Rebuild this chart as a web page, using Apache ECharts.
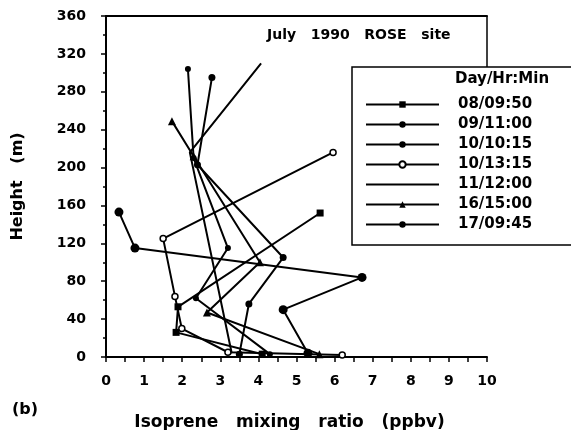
<!DOCTYPE html>
<html>
<head>
<meta charset="utf-8">
<script src="https://cdn.jsdelivr.net/npm/echarts@6/dist/echarts.min.js"></script>
<style>
	html, body { margin: 0; padding: 0; background: #fff; }
	#chart { width: 571px; height: 430px; }
</style>
</head>
<body>
<div id="chart"></div>
<script>
// 剖面数据 (异戊二烯, ppbv / 高度 m)
var names = ['08/09:50', '09/11:00', '10/10:15', '10/13:15', '11/12:00', '16/15:00', '17/09:45'];

var x0809 = [5.62, 1.89, 1.84, 4.1];
var h0809 = [152, 53, 26, 3];

var x0911 = [2.15, 2.3, 3.2, 2.36, 4.3];
var h0911 = [304, 210, 115, 62, 3];

var x1010 = [2.78, 2.4, 4.65, 3.75, 3.5];
var h1010 = [295, 203, 105, 56, 3];

var x1013 = [5.96, 1.5, 1.81, 1.99, 3.2, 6.2];
var h1013 = [216, 125, 64, 30, 5, 2];

var x1112 = [4.07, 2.2, 3.3];
var h1112 = [310, 216, 4];

var x1615 = [1.73, 2.3, 4.04, 2.65, 5.6];
var h1615 = [249, 212, 100, 47, 3];

var x1709 = [0.34, 0.76, 6.72, 4.65, 5.3];
var h1709 = [153, 115, 84, 50, 4];

var xTicks = [0, 10, 1];
var yTicks = [0, 360, 40];

function pairs(xs, hs) {
	var out = [];
	for (var i = 0; i < xs.length; i++) {
		out.push([xs[i], hs[i]]);
	}
	return out;
}

var FONT = 'DejaVu Sans';

function mk(name, xs, hs, symbol, size, empty) {
	return {
		name: name,
		type: 'line',
		data: pairs(xs, hs),
		symbol: symbol,
		symbolSize: size,
		showSymbol: true,
		showAllSymbol: true,
		clip: false,
		animation: false,
		lineStyle: { color: '#000', width: 2 },
		itemStyle: {
			color: empty ? '#fff' : '#000',
			borderColor: '#000',
			borderWidth: empty ? 1.5 : 0
		}
	};
}

// 图例: 11/12:00 没有标记, 只画线
var legendData = [];
for (var k = 0; k < names.length; k++) {
	if (names[k] == '11/12:00') {
		legendData.push({ name: names[k], icon: 'path://M0,0H73V2H0Z' });
	} else {
		legendData.push(names[k]);
	}
}

var myChart = echarts.init(document.getElementById('chart'));
var option = {
	backgroundColor: '#fff',
	animation: false,
	title: {
		text: 'July   1990   ROSE   site',
		left: 262,
		top: 23,
		textStyle: { fontFamily: FONT, fontSize: 14, fontWeight: 'bold', color: '#000' }
	},
	grid: { left: 106, right: 84, top: 16, bottom: 73, outerBoundsMode: 'none', containLabel: false },
	legend: {
		orient: 'vertical',
		left: 360,
		top: 92,
		itemWidth: 73,
		itemHeight: 8,
		itemGap: 5,
		data: legendData,
		textStyle: { fontFamily: FONT, fontSize: 15, fontWeight: 'bold', color: '#000', padding: [0, 0, 0, 14] },
		inactiveColor: '#000'
	},
	xAxis: [{
		type: 'value',
		min: xTicks[0],
		max: xTicks[1],
		interval: xTicks[2],
		name: 'Isoprene   mixing   ratio   (ppbv)',
		nameLocation: 'middle',
		nameGap: 57,
		nameTextStyle: { fontFamily: FONT, fontSize: 17, fontWeight: 'bold', color: '#000', padding: [0, 14, 0, 0] },
		axisLine: { lineStyle: { color: '#000', width: 2 } },
		axisTick: { show: true, inside: false, length: 5, lineStyle: { color: '#000', width: 1.5 } },
		minorTick: { show: true, splitNumber: 2, length: 5, lineStyle: { color: '#000', width: 1.5 } },
		axisLabel: { fontFamily: FONT, fontSize: 14, fontWeight: 'bold', color: '#000', margin: 17 },
		splitLine: { show: false }
	}, {
		type: 'value',
		position: 'top',
		min: xTicks[0],
		max: xTicks[1],
		axisLine: { show: true, lineStyle: { color: '#000', width: 2 } },
		axisTick: { show: false },
		axisLabel: { show: false },
		splitLine: { show: false }
	}],
	yAxis: {
		type: 'value',
		min: yTicks[0],
		max: yTicks[1],
		interval: yTicks[2],
		name: 'Height   (m)',
		nameLocation: 'middle',
		nameGap: 80,
		nameTextStyle: { fontFamily: FONT, fontSize: 16, fontWeight: 'bold', color: '#000' },
		axisLine: { show: true, lineStyle: { color: '#000', width: 2 } },
		axisTick: { show: true, length: 5, lineStyle: { color: '#000', width: 1.5 } },
		minorTick: { show: true, splitNumber: 2, length: 3, lineStyle: { color: '#000', width: 1.5 } },
		axisLabel: { fontFamily: FONT, fontSize: 14, fontWeight: 'bold', color: '#000', margin: 8, padding: [0, 12, 0, 0] },
		splitLine: { show: false }
	},
	graphic: [{
		type: 'line',
		shape: { x1: 487, y1: 16, x2: 487, y2: 67 },
		style: { stroke: '#000', lineWidth: 1.5 },
		z: 1
	}, {
		type: 'rect',
		shape: { x: 352, y: 67, width: 240, height: 178 },
		style: { fill: '#fff', stroke: '#000', lineWidth: 1.5 },
		z: 2
	}, {
		type: 'text',
		left: 455,
		top: 72,
		style: { text: 'Day/Hr:Min', fontFamily: FONT, fontSize: 15, fontWeight: 'bold', fill: '#000' },
		z: 3
	}, {
		type: 'text',
		left: 12,
		top: 402,
		style: { text: '(b)', fontFamily: FONT, fontSize: 16, fontWeight: 'bold', fill: '#000' },
		z: 3
	}],
	series: [
		mk(names[0], x0809, h0809, 'rect', 7, false),
		mk(names[1], x0911, h0911, 'circle', 6, false),
		mk(names[2], x1010, h1010, 'circle', 7, false),
		mk(names[3], x1013, h1013, 'circle', 6, true),
		mk(names[4], x1112, h1112, 'none', 2, false),
		mk(names[5], x1615, h1615, 'triangle', 8, false),
		mk(names[6], x1709, h1709, 'circle', 9, false)
	]
};
myChart.setOption(option);
</script>
</body>
</html>
